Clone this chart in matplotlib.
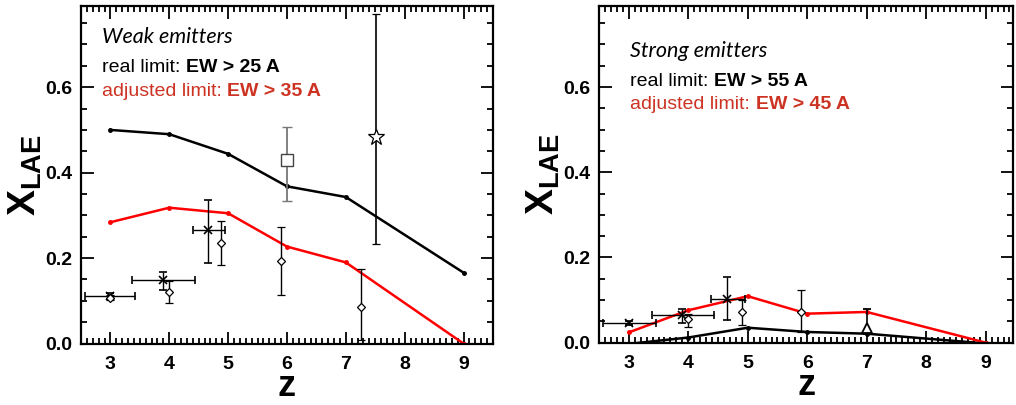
import matplotlib
matplotlib.use("Agg")
import matplotlib.pyplot as plt
from matplotlib.ticker import MultipleLocator, FormatStrFormatter

plt.rcParams['font.family'] = ['Liberation Sans', 'DejaVu Sans']
plt.rcParams['mathtext.fontset'] = 'custom'
plt.rcParams['mathtext.rm'] = 'Liberation Sans'
plt.rcParams['mathtext.bf'] = 'Liberation Sans:bold'

# model curves
z_model = [3, 4, 5, 6, 7, 9]
weak_real = [0.500, 0.490, 0.444, 0.368, 0.343, 0.166]
weak_adj = [0.284, 0.318, 0.305, 0.227, 0.190, 0.0]
strong_real = [-0.003, 0.012, 0.035, 0.025, 0.021, -0.002]
strong_adj = [0.024, 0.076, 0.109, 0.068, 0.072, 0.0]

# observations, weak emitters
weak_x_z = [3.0, 3.9, 4.65]
weak_x_y = [0.111, 0.149, 0.265]
weak_x_ylo = [0.104, 0.126, 0.188]
weak_x_yhi = [0.118, 0.168, 0.337]
weak_x_zlo = [2.57, 3.37, 4.40]
weak_x_zhi = [3.41, 4.43, 4.94]

weak_d_z = [3.0, 4.0, 4.88, 5.9, 7.25]
weak_d_y = [0.107, 0.120, 0.236, 0.194, 0.086]
weak_d_ylo = [0.101, 0.094, 0.184, 0.114, 0.008]
weak_d_yhi = [0.113, 0.147, 0.287, 0.274, 0.174]

weak_sq_z = [6.0]
weak_sq_y = [0.430]
weak_sq_ylo = [0.334]
weak_sq_yhi = [0.508]

weak_star_z = [7.52]
weak_star_y = [0.483]
weak_star_ylo = [0.233]
weak_star_yhi = [0.772]

# observations, strong emitters
strong_x_z = [3.0, 3.9, 4.65]
strong_x_y = [0.046, 0.066, 0.102]
strong_x_ylo = [0.042, 0.046, 0.053]
strong_x_yhi = [0.050, 0.078, 0.154]
strong_x_zlo = [2.57, 3.39, 4.38]
strong_x_zhi = [3.45, 4.43, 4.95]

strong_d_z = [4.0, 4.9, 5.9]
strong_d_y = [0.055, 0.071, 0.072]
strong_d_ylo = [0.036, 0.041, 0.024]
strong_d_yhi = [0.068, 0.101, 0.123]

strong_tri_z = [7.0]
strong_tri_y = [0.035]
strong_tri_ylo = [0.021]
strong_tri_yhi = [0.078]

RED = '#ff0000'
TXT_RED = '#cc3322'


def errs(y, lo, hi):
    return [[a - b for a, b in zip(y, lo)], [b - a for a, b in zip(y, hi)]]


def style_axes(ax, xmax):
    ax.set_xlim(2.5, xmax)
    ax.set_ylim(0, 0.79)
    ax.xaxis.set_major_locator(MultipleLocator(1))
    ax.xaxis.set_minor_locator(MultipleLocator(0.1))
    ax.yaxis.set_major_locator(MultipleLocator(0.2))
    ax.yaxis.set_minor_locator(MultipleLocator(0.05))
    ax.yaxis.set_major_formatter(FormatStrFormatter('%.1f'))
    ax.tick_params(which='both', direction='in', top=True, right=True, width=1.3)
    ax.tick_params(which='major', length=9, labelsize=14)
    ax.tick_params(which='minor', length=4.5)
    ax.tick_params(axis='x', pad=9)
    ax.tick_params(axis='y', pad=6)
    for lab in ax.get_xticklabels() + ax.get_yticklabels():
        lab.set_fontweight('bold')
    for s in ax.spines.values():
        s.set_linewidth(1.6)
    ax.set_xlabel('z', fontsize=26, fontweight='bold', va='baseline')
    ax.xaxis.set_label_coords(0.5, -0.155)
    ax.set_ylabel(r'$\mathbf{X}_{\mathbf{LAE}}$', fontsize=28, va='center')
    ax.yaxis.set_label_coords(-0.135, 0.5)


def labels(ax, x, y0, title, real, adj):
    ax.text(x, y0, title, transform=ax.transAxes, fontsize=15.5,
            family='Lato', style='italic', va='center')
    dy = y0 - 0.115
    t1 = ax.text(x, dy, 'real limit:', transform=ax.transAxes, fontsize=14, va='bottom')
    ax.annotate(real, xy=(1, 0), xycoords=t1, xytext=(4, 0), textcoords='offset points',
                fontsize=14, fontweight='bold', va='bottom')
    t2 = ax.text(x, dy - 0.07, 'adjusted limit:', transform=ax.transAxes, fontsize=14,
                 va='bottom', color=TXT_RED)
    ax.annotate(adj, xy=(1, 0), xycoords=t2, xytext=(4, 0), textcoords='offset points',
                fontsize=14, fontweight='bold', va='bottom', color=TXT_RED)


fig = plt.figure(figsize=(10.16, 4.05), dpi=100)
ax1 = fig.add_axes([0.0797, 0.1516, 0.4055, 0.8336])
ax2 = fig.add_axes([0.5896, 0.154, 0.4075, 0.831])

# left panel: weak emitters
ax1.plot(z_model, weak_real, color='black', lw=1.8, marker='o', ms=2.5)
ax1.plot(z_model, weak_adj, color=RED, lw=1.8, marker='o', ms=2.5)
ax1.errorbar(weak_x_z, weak_x_y, yerr=errs(weak_x_y, weak_x_ylo, weak_x_yhi),
             xerr=errs(weak_x_z, weak_x_zlo, weak_x_zhi), fmt='x', color='black',
             ms=6, mew=1.2, elinewidth=1, capsize=3)
ax1.errorbar(weak_d_z, weak_d_y, yerr=errs(weak_d_y, weak_d_ylo, weak_d_yhi), fmt='D',
             mfc='white', mec='black', color='black', ms=4.2, mew=0.9, elinewidth=1, capsize=3)
ax1.errorbar(weak_sq_z, weak_sq_y, yerr=errs(weak_sq_y, weak_sq_ylo, weak_sq_yhi), fmt='s',
             mfc='white', mec='#444444', color='#777777', ms=8, mew=1, elinewidth=1.3, capsize=3.5)
ax1.errorbar(weak_star_z, weak_star_y, yerr=errs(weak_star_y, weak_star_ylo, weak_star_yhi),
             fmt='*', mfc='white', mec='black', color='black', ms=12, mew=0.9,
             elinewidth=1.2, capsize=3)
style_axes(ax1, 9.5)
labels(ax1, 0.051, 0.908, 'Weak emitters', 'EW > 25 A', 'EW > 35 A')

# right panel: strong emitters
ax2.plot(z_model, strong_real, color='black', lw=1.8, marker='o', ms=2.5)
ax2.plot(z_model, strong_adj, color=RED, lw=1.8, marker='o', ms=2.5)
ax2.errorbar(strong_x_z, strong_x_y, yerr=errs(strong_x_y, strong_x_ylo, strong_x_yhi),
             xerr=errs(strong_x_z, strong_x_zlo, strong_x_zhi), fmt='x', color='black',
             ms=6, mew=1.2, elinewidth=1, capsize=3)
ax2.errorbar(strong_d_z, strong_d_y, yerr=errs(strong_d_y, strong_d_ylo, strong_d_yhi), fmt='D',
             mfc='white', mec='black', color='black', ms=4.2, mew=0.9, elinewidth=1, capsize=3)
ax2.errorbar(strong_tri_z, strong_tri_y, yerr=errs(strong_tri_y, strong_tri_ylo, strong_tri_yhi),
             fmt='^', mfc='white', mec='black', color='black', ms=7, mew=1.3,
             elinewidth=1.2, capsize=3)
style_axes(ax2, 9.46)
labels(ax2, 0.075, 0.866, 'Strong emitters', 'EW > 55 A', 'EW > 45 A')

fig.savefig('out.png', dpi=100)
